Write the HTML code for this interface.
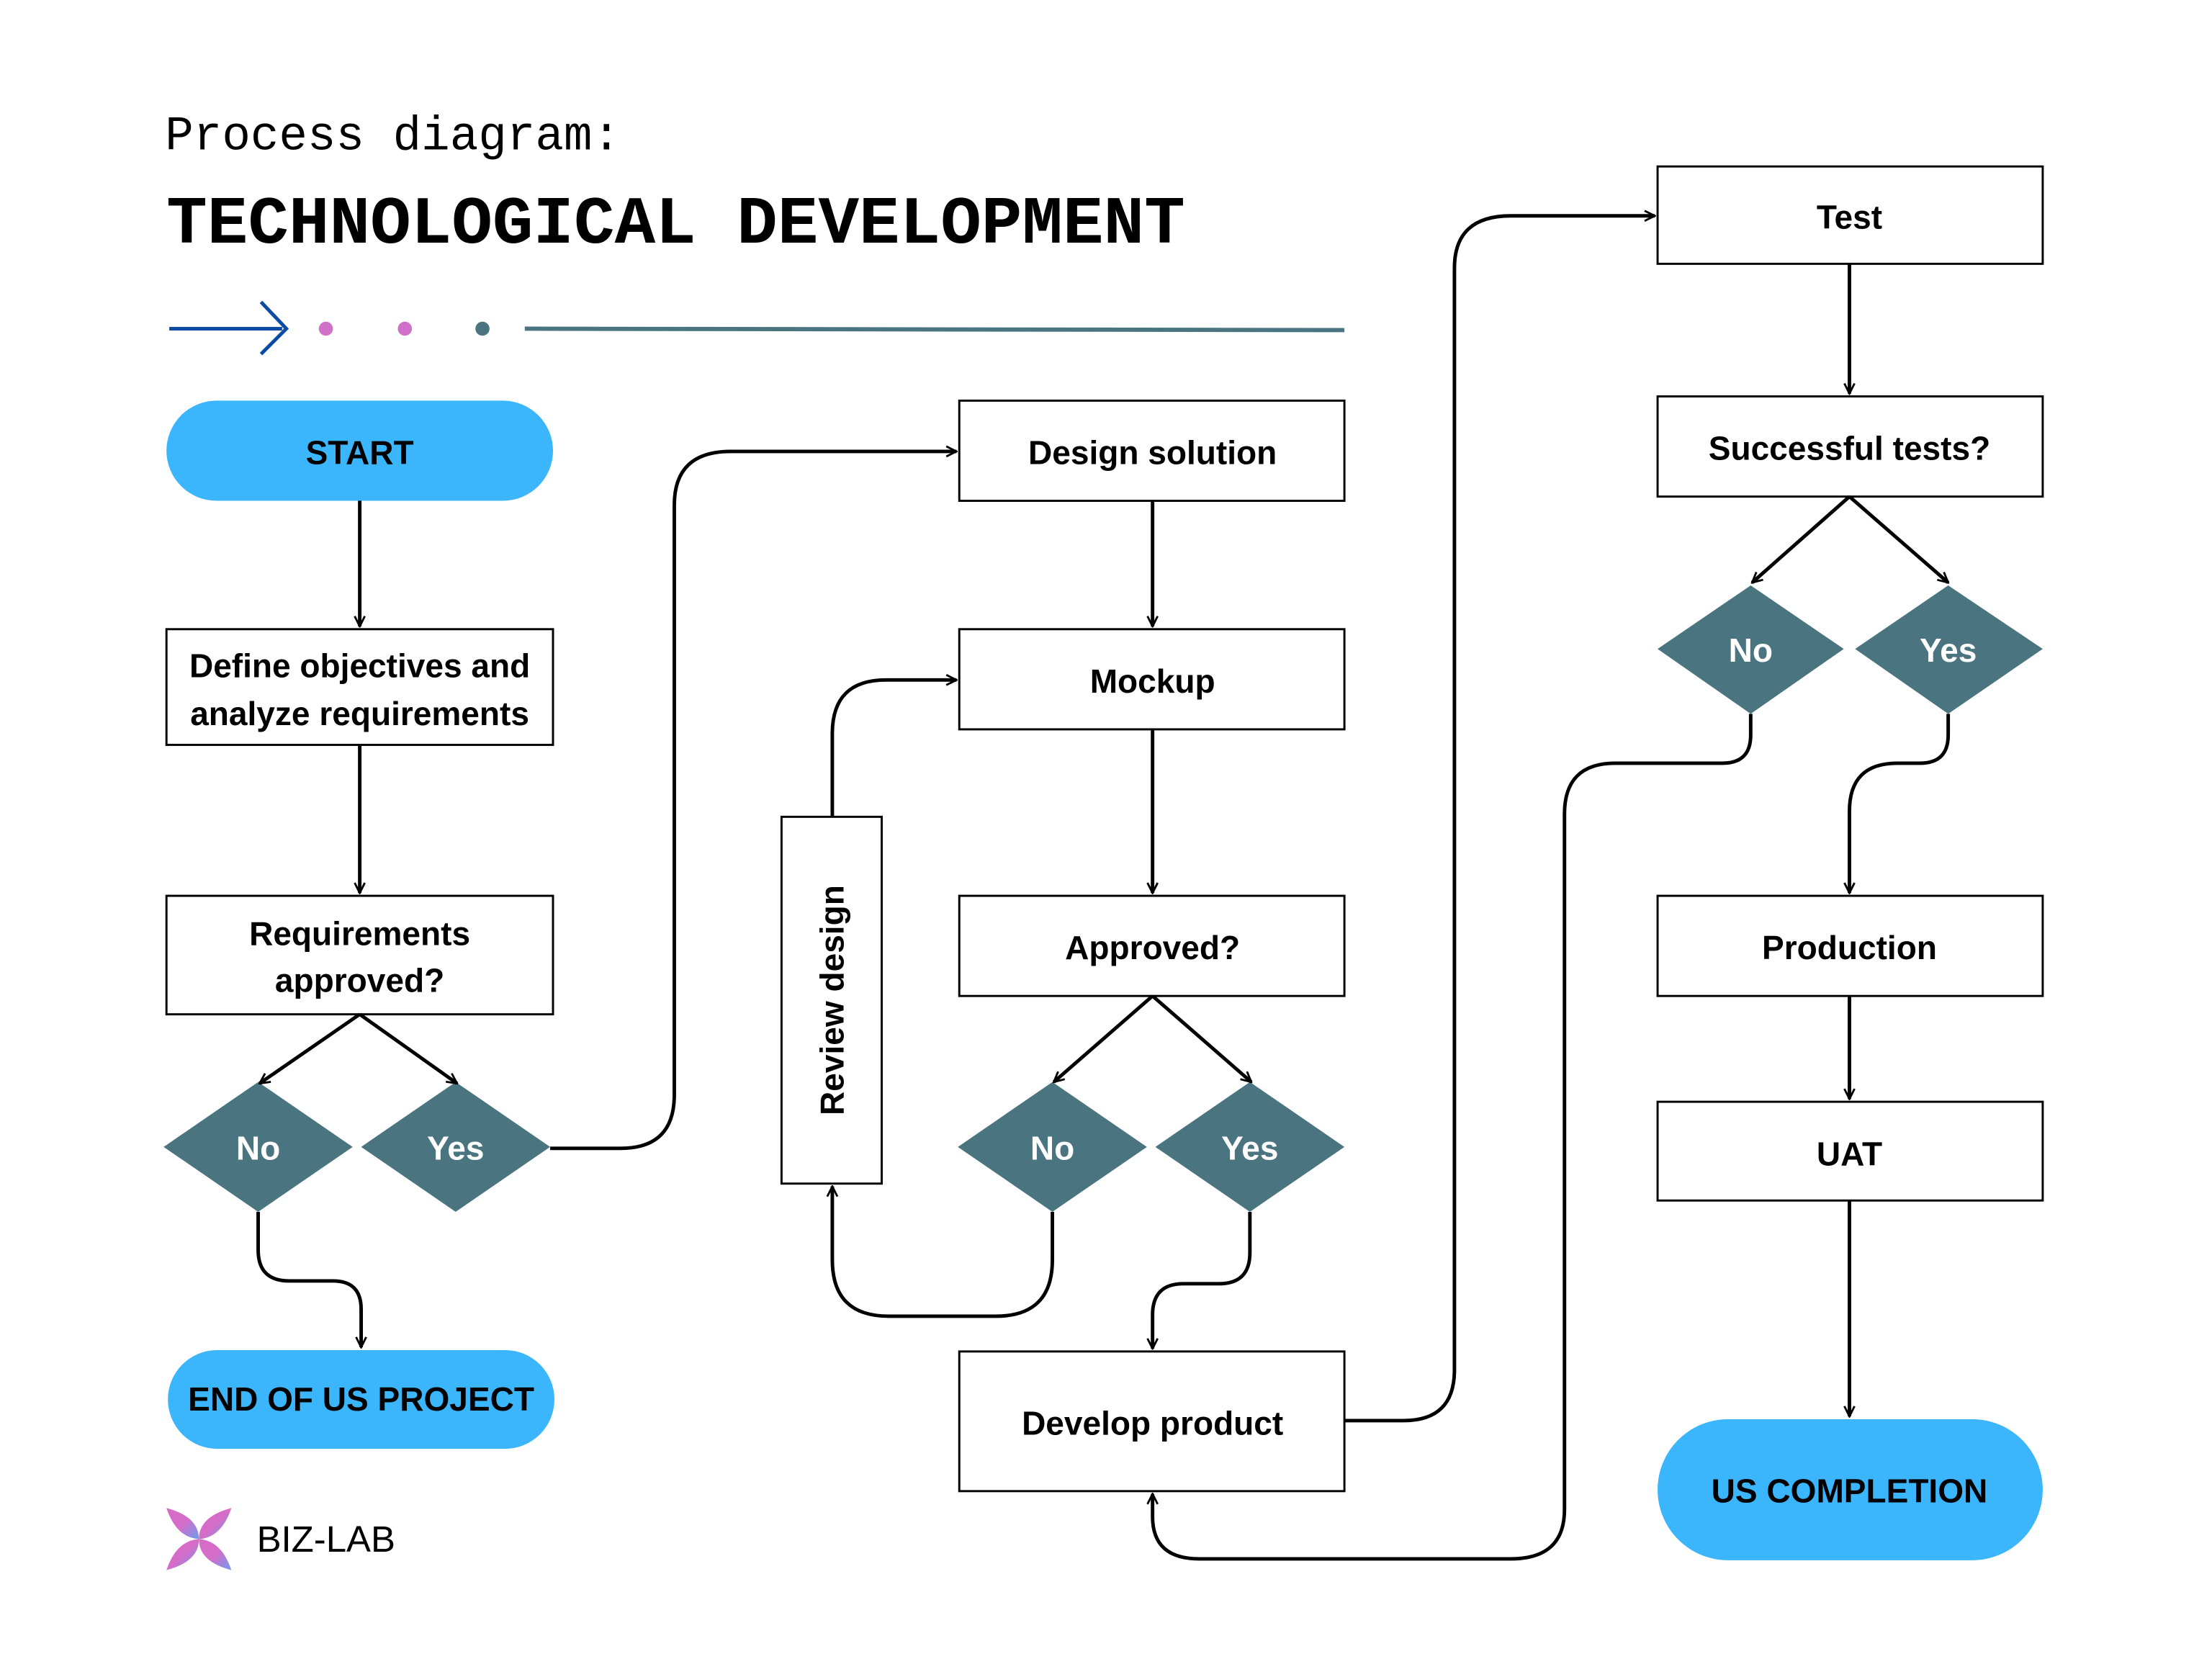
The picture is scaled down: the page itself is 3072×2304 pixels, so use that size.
<!DOCTYPE html>
<html><head><meta charset="utf-8"><style>
html,body{margin:0;padding:0;background:#fff}
svg{display:block}
</style></head><body>
<svg width="3072" height="2304" viewBox="0 0 1568 1176" xmlns="http://www.w3.org/2000/svg" font-family="Liberation Sans, sans-serif">
<defs>
<marker id="a" viewBox="0 0 10 10" refX="9" refY="5" markerWidth="9" markerHeight="9" markerUnits="userSpaceOnUse" orient="auto">
<path d="M1,1 L9,5 L1,9" fill="none" stroke="#000" stroke-width="1.6"/>
</marker>
<linearGradient id="lg" x1="0" y1="0" x2="1" y2="1"><stop offset="0.5" stop-color="#d56cc8"/><stop offset="1" stop-color="#6f9cf0"/></linearGradient>
</defs>
<rect width="1568" height="1176" fill="#fff"/>
<text x="117" y="106" style="font-family:'Liberation Mono',monospace" font-size="34" textLength="323" lengthAdjust="spacingAndGlyphs">Process diagram:</text>
<text x="118" y="172" style="font-family:'Liberation Mono',monospace" font-size="48" font-weight="bold" textLength="722" lengthAdjust="spacingAndGlyphs">TECHNOLOGICAL DEVELOPMENT</text>
<line x1="120" y1="233" x2="200" y2="233" stroke="#0b4ba3" stroke-width="2.5"/>
<path d="M185,214 L203,233 L185,251" fill="none" stroke="#0b4ba3" stroke-width="2.5"/>
<circle cx="231" cy="233" r="5" fill="#d070c8"/>
<circle cx="287" cy="233" r="5" fill="#d070c8"/>
<circle cx="342" cy="233" r="5" fill="#4a7580"/>
<line x1="372" y1="233" x2="953" y2="234" stroke="#4a7580" stroke-width="3"/>

<g fill="#3bb5fc">
<rect x="118" y="284" width="274" height="71" rx="35.5"/>
<rect x="119" y="957" width="274" height="70" rx="35"/>
<rect x="1175" y="1006" width="273" height="100" rx="50"/>
</g>
<g fill="#fff" stroke="#000" stroke-width="1.5">
<rect x="118" y="446" width="274" height="82"/>
<rect x="118" y="635" width="274" height="84"/>
<rect x="680" y="284" width="273" height="71"/>
<rect x="680" y="446" width="273" height="71"/>
<rect x="680" y="635" width="273" height="71"/>
<rect x="680" y="958" width="273" height="99"/>
<rect x="554" y="579" width="71" height="260"/>
<rect x="1175" y="118" width="273" height="69"/>
<rect x="1175" y="281" width="273" height="71"/>
<rect x="1175" y="635" width="273" height="71"/>
<rect x="1175" y="781" width="273" height="70"/>
</g>
<g fill="#4a7580">
<polygon points="116,813 183,767 250,813 183,859"/>
<polygon points="256,813 323,767 390,813 323,859"/>
<polygon points="679,813 746,767 813,813 746,859"/>
<polygon points="819,813 886,767 953,813 886,859"/>
<polygon points="1175,460 1241,415 1307,460 1241,506"/>
<polygon points="1315,460 1381,415 1448,460 1381,506"/>
</g>
<g fill="none" stroke="#000" stroke-width="2.5">
<path d="M255,355 V444" marker-end="url(#a)"/>
<path d="M255,528 V633" marker-end="url(#a)"/>
<path d="M255,719 L184,768" marker-end="url(#a)"/>
<path d="M255,719 L324,768" marker-end="url(#a)"/>
<path d="M183,859 V886 Q183,908 205,908 H236 Q256,908 256,928 V955" marker-end="url(#a)"/>
<path d="M390,814 H440 Q478,814 478,776 V358 Q478,320 518,320 H678" marker-end="url(#a)"/>
<path d="M817,355 V444" marker-end="url(#a)"/>
<path d="M817,517 V633" marker-end="url(#a)"/>
<path d="M817,706 L747,767" marker-end="url(#a)"/>
<path d="M817,706 L887,767" marker-end="url(#a)"/>
<path d="M746,859 V893 Q746,933 706,933 H630 Q590,933 590,893 V841" marker-end="url(#a)"/>
<path d="M590,579 V520 Q590,482 628,482 H678" marker-end="url(#a)"/>
<path d="M886,859 V888 Q886,910 864,910 H839 Q817,910 817,932 V956" marker-end="url(#a)"/>
<path d="M953,1007 H995 Q1031,1007 1031,971 V190 Q1031,153 1071,153 H1173" marker-end="url(#a)"/>
<path d="M1311,187 V279" marker-end="url(#a)"/>
<path d="M1311,352 L1242,413" marker-end="url(#a)"/>
<path d="M1311,352 L1381,413" marker-end="url(#a)"/>
<path d="M1241,506 V521 Q1241,541 1221,541 H1145 Q1109,541 1109,577 V1070 Q1109,1105 1071,1105 H850 Q817,1105 817,1075 V1059" marker-end="url(#a)"/>
<path d="M1381,506 V521 Q1381,541 1361,541 H1345 Q1311,541 1311,575 V633" marker-end="url(#a)"/>
<path d="M1311,706 V779" marker-end="url(#a)"/>
<path d="M1311,851 V1004" marker-end="url(#a)"/>
</g>
<g font-size="23.5" font-weight="bold" text-anchor="middle" fill="#000">
<text x="255" y="329">START</text>
<text x="255" y="480">Define objectives and</text>
<text x="255" y="514">analyze requirements</text>
<text x="255" y="670">Requirements</text>
<text x="255" y="703">approved?</text>
<text x="256" y="1000">END OF US PROJECT</text>
<text x="817" y="329">Design solution</text>
<text x="817" y="491">Mockup</text>
<text x="817" y="680">Approved?</text>
<text x="817" y="1017">Develop product</text>
<text x="1311" y="162">Test</text>
<text x="1311" y="326">Successful tests?</text>
<text x="1311" y="680">Production</text>
<text x="1311" y="826">UAT</text>
<text x="1311" y="1065">US COMPLETION</text>
<text transform="translate(598,709) rotate(-90)">Review design</text>
</g>
<g font-size="23.5" font-weight="bold" text-anchor="middle" fill="#fff">
<text x="183" y="822">No</text>
<text x="323" y="822">Yes</text>
<text x="746" y="822">No</text>
<text x="886" y="822">Yes</text>
<text x="1241" y="469">No</text>
<text x="1381" y="469">Yes</text>
</g>
<g fill="url(#lg)">
<path d="M118,1069 Q141,1075 141,1091 Q125,1090 118,1069Z"/>
<path d="M164,1069 Q141,1075 141,1091 Q157,1090 164,1069Z"/>
<path d="M118,1113 Q141,1107 141,1091 Q125,1092 118,1113Z"/>
<path d="M164,1113 Q141,1107 141,1091 Q157,1092 164,1113Z"/>
</g>
<text x="182" y="1100" font-size="26">BIZ-LAB</text>
</svg>
</body></html>
